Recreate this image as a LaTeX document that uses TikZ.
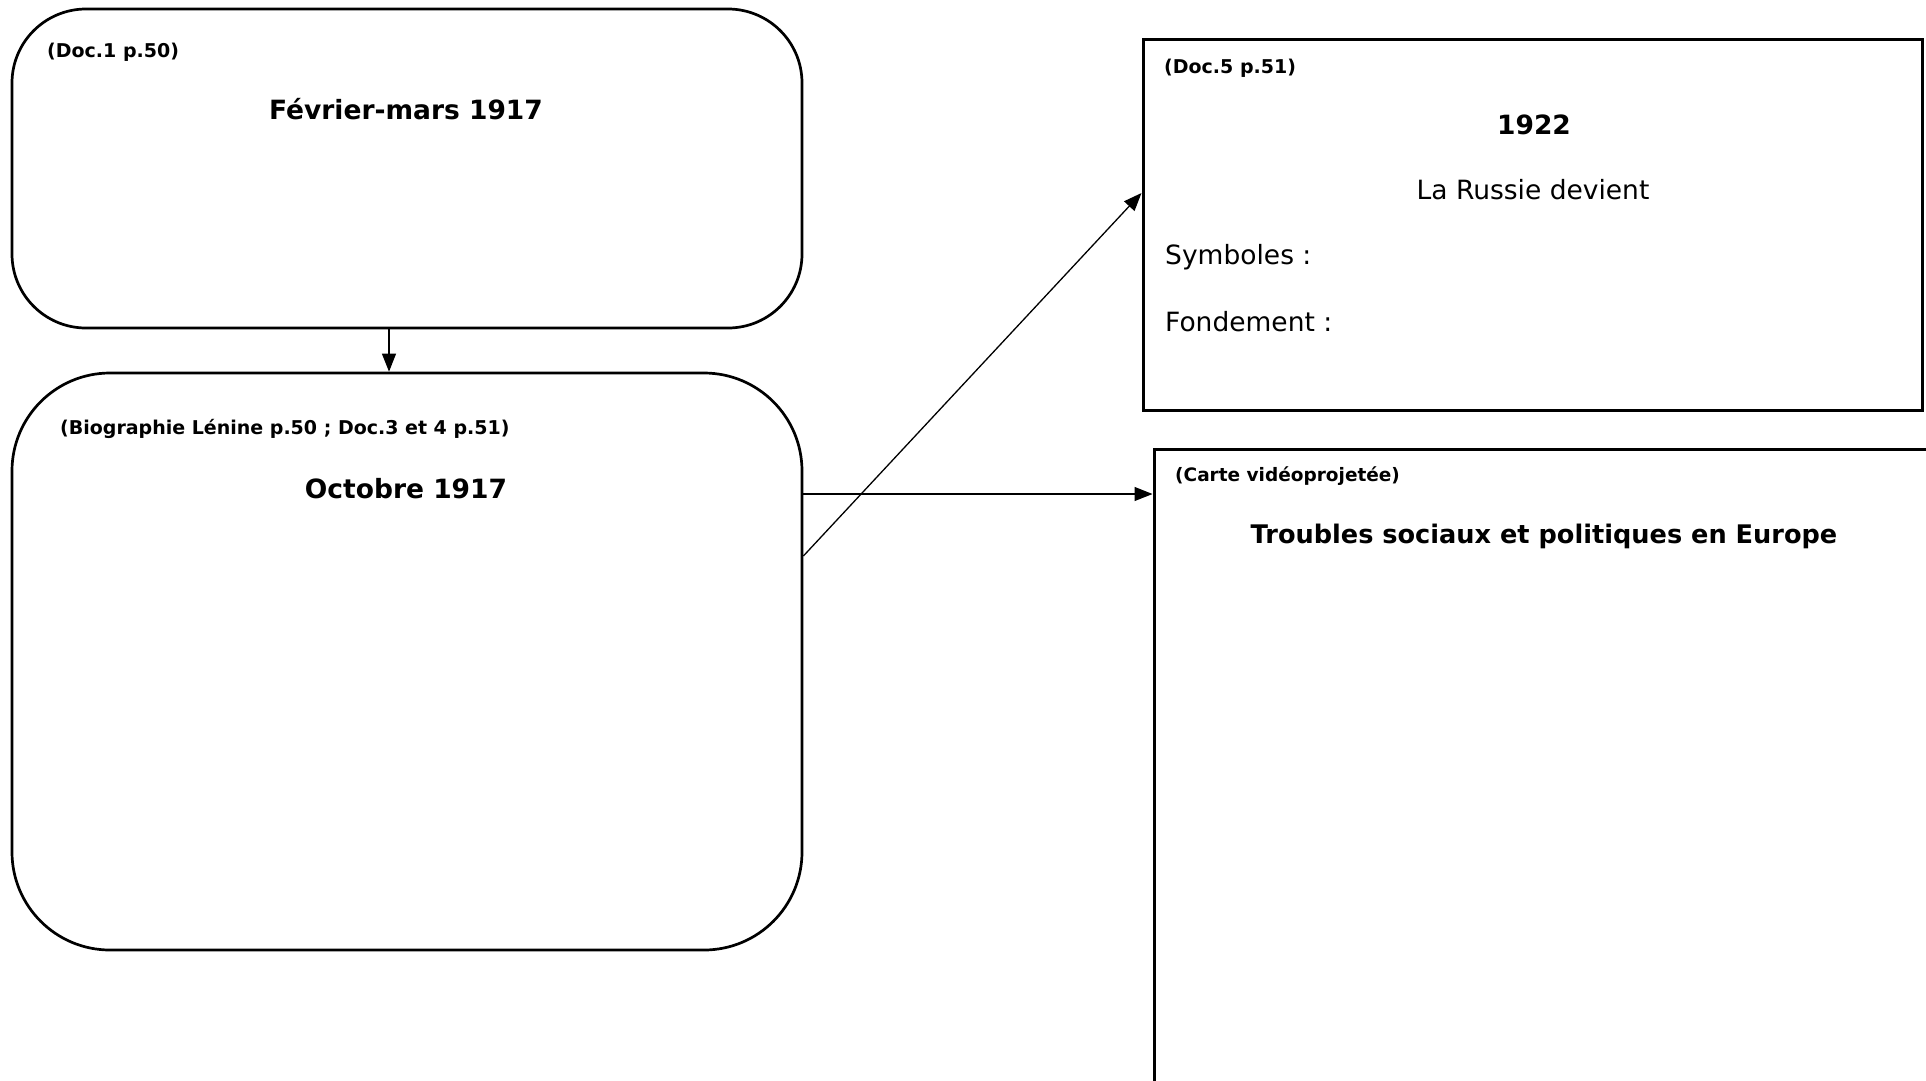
\documentclass[tikz,border=0pt]{standalone}
\usepackage{fontspec}
\setmainfont{DejaVu Sans}
\usetikzlibrary{arrows.meta}

\tikzset{
  rbox/.style={draw, line width=2.7pt, minimum width=790pt, inner sep=0pt},
  sbox/.style={draw, line width=3pt, inner sep=0pt},
  src/.style={anchor=west, inner sep=0pt, font=\bfseries\fontsize{19}{22}\selectfont},
  title/.style={inner sep=0pt, font=\bfseries\fontsize{26.5}{30}\selectfont},
  txt/.style={inner sep=0pt, font=\fontsize{26.5}{30}\selectfont},
  link/.style={line width=1.3pt, -{Triangle[length=18pt,width=14pt]}},
}

\begin{document}
\begin{tikzpicture}[x=1pt,y=-1pt]
        \clip (0,0) rectangle (1926,1080);
        \fill [white] (0,0) rectangle (1926,1080);

        \node (fev)   [rbox, minimum height=319pt, rounded corners=74pt] at (407,168.5) {};
        \node (oct)   [rbox, minimum height=577pt, rounded corners=98pt] at (407,661.5) {};
        \node (urss)  [sbox, minimum width=779pt, minimum height=371pt]  at (1532.5,224.5) {};
        \node (carte) [sbox, minimum width=806pt, minimum height=671pt]  at (1557,784.5) {};

        \node (fevsrc)   [src]   at (47,52)    {(Doc.1 p.50)};
        \node (fevtitle) [title] at (406,109)  {Février-mars 1917};

        \node (octsrc)   [src]   at (60,429)   {(Biographie Lénine p.50 ; Doc.3 et 4 p.51)};
        \node (octtitle) [title] at (406,489)  {Octobre 1917};

        \node (urssrc)   [src]   at (1164,68)  {(Doc.5 p.51)};
        \node (urstitle) [title] at (1534,125) {1922};
        \node (russie)   [txt]   at (1533,190) {La Russie devient};
        \node (symb)     [txt, anchor=west] at (1165,257) {Symboles :};
        \node (fond)     [txt, anchor=west] at (1165,322) {Fondement :};

        \node (cartesrc)   [src, font=\bfseries\fontsize{18.5}{22}\selectfont] at (1175,476) {(Carte vidéoprojetée)};
        \node (cartetitle) [title, font=\bfseries\fontsize{25.6}{30}\selectfont] at (1544,536) {Troubles sociaux et politiques en Europe};

        \draw [link] ([xshift=-18pt]fev.south) to ([xshift=-18pt]oct.north);

        \coordinate (h) at ([yshift=167.5pt]oct.east);
        \draw [link] (h) to (h -| carte.west);

        \draw [link] ([yshift=105.5pt]oct.east) to ([yshift=31.5pt]urss.west);
      \end{tikzpicture}
\end{document}
